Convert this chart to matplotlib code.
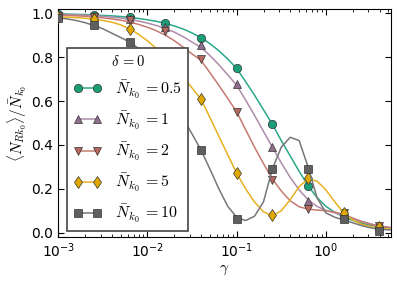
import numpy as np
import matplotlib
matplotlib.use('Agg')
import matplotlib.pyplot as plt

plt.rcParams['mathtext.fontset'] = 'cm'
plt.rcParams['font.size'] = 10

# simulation points (log10 gamma)
log_g_pts = [-3.0, -2.6, -2.2, -1.8, -1.4, -1.0, -0.6, -0.2, 0.2, 0.6]
pts_05 = [0.998, 0.992, 0.986, 0.956, 0.889, 0.749, 0.494, 0.214, 0.074, 0.025]
pts_1 = [0.995, 0.989, 0.976, 0.938, 0.855, 0.676, 0.392, 0.145, 0.080, 0.028]
pts_2 = [0.990, 0.985, 0.968, 0.920, 0.790, 0.551, 0.241, 0.109, 0.090, 0.030]
pts_5 = [0.985, 0.975, 0.927, 0.800, 0.609, 0.271, 0.079, 0.249, 0.090, 0.025]
pts_10 = [0.980, 0.945, 0.870, 0.650, 0.377, 0.062, 0.290, 0.290, 0.062, 0.006]

# theory curves (log10 gamma)
log_g_curve = [-3.0, -2.9, -2.8, -2.7, -2.6, -2.5, -2.4, -2.3, -2.2, -2.1,
               -2.0, -1.9, -1.8, -1.7, -1.6, -1.5, -1.4, -1.3, -1.2, -1.1,
               -1.0, -0.9, -0.8, -0.7, -0.6, -0.5, -0.4, -0.3, -0.2, -0.1,
               0.0, 0.1, 0.2, 0.3, 0.4, 0.5, 0.6, 0.73]
curve_05 = [0.998, 0.997, 0.996, 0.995, 0.993, 0.991, 0.989, 0.986, 0.982, 0.977,
            0.971, 0.964, 0.955, 0.943, 0.929, 0.911, 0.889, 0.862, 0.830, 0.792,
            0.749, 0.689, 0.627, 0.561, 0.494, 0.420, 0.350, 0.280, 0.214, 0.160,
            0.120, 0.092, 0.072, 0.056, 0.043, 0.034, 0.027, 0.021]
curve_1 = [0.996, 0.995, 0.994, 0.992, 0.990, 0.987, 0.983, 0.979, 0.973, 0.965,
           0.956, 0.945, 0.932, 0.915, 0.894, 0.869, 0.845, 0.808, 0.766, 0.720,
           0.672, 0.605, 0.535, 0.462, 0.390, 0.318, 0.252, 0.195, 0.150, 0.120,
           0.101, 0.090, 0.080, 0.066, 0.052, 0.040, 0.031, 0.023]
curve_2 = [0.992, 0.991, 0.989, 0.987, 0.984, 0.980, 0.975, 0.969, 0.961, 0.950,
           0.937, 0.921, 0.901, 0.876, 0.846, 0.815, 0.786, 0.730, 0.672, 0.612,
           0.551, 0.470, 0.390, 0.315, 0.245, 0.190, 0.145, 0.118, 0.107, 0.103,
           0.100, 0.094, 0.082, 0.066, 0.050, 0.038, 0.029, 0.022]
curve_5 = [0.985, 0.983, 0.981, 0.978, 0.974, 0.968, 0.960, 0.948, 0.930, 0.905,
           0.875, 0.840, 0.800, 0.758, 0.710, 0.660, 0.609, 0.525, 0.440, 0.355,
           0.271, 0.200, 0.140, 0.095, 0.077, 0.100, 0.150, 0.210, 0.245, 0.235,
           0.195, 0.140, 0.090, 0.058, 0.038, 0.027, 0.020, 0.015]
curve_10 = [0.980, 0.975, 0.968, 0.958, 0.945, 0.930, 0.910, 0.890, 0.870, 0.840,
            0.800, 0.750, 0.690, 0.610, 0.520, 0.450, 0.377, 0.290, 0.200, 0.120,
            0.070, 0.055, 0.075, 0.140, 0.290, 0.390, 0.435, 0.420, 0.300, 0.160,
            0.090, 0.070, 0.058, 0.045, 0.032, 0.022, 0.015, 0.012]

labels = ['0.5', '1', '2', '5', '10']
markers = ['o', '^', 'v', 'd', 's']
line_colors = ['#2aa888', '#ad8cab', '#c57a70', '#e8b020', '#777777']
face_colors = ['#1b9e77', '#8f6f8d', '#b5665d', '#e0a800', '#5f5f5f']

fig = plt.figure(figsize=(3.99, 2.83), dpi=100)
ax = fig.add_axes([0.146, 0.1625, 0.834, 0.8055])

all_pts = [pts_05, pts_1, pts_2, pts_5, pts_10]
all_curves = [curve_05, curve_1, curve_2, curve_5, curve_10]
xg_c = 10 ** np.array(log_g_curve)
xg_p = 10 ** np.array(log_g_pts)
for i in range(5):
    ax.plot(xg_c, all_curves[i], '-', color=line_colors[i], lw=1.1, zorder=2 + i)
    ax.plot(xg_p, all_pts[i], markers[i], color=face_colors[i], mec='#333333',
            mew=0.5, ms=6, zorder=2 + i)
    # legend proxy
    ax.plot([], [], '-', marker=markers[i], color=line_colors[i], mfc=face_colors[i],
            mec='#333333', mew=0.5, ms=6, lw=1.1,
            label=r'$\bar{N}_{k_0}\,{=}%s$' % labels[i])

ax.set_xscale('log')
ax.set_xlim(1e-3, 10 ** 0.73)
ax.set_ylim(-0.02, 1.02)
ax.set_yticks([0.0, 0.2, 0.4, 0.6, 0.8, 1.0])
ax.set_xlabel(r'$\gamma$', fontsize=11, labelpad=1)
ax.set_ylabel(r'$\langle N_{Rk_0}\rangle/\bar{N}_{k_0}$', fontsize=11, labelpad=2)
ax.tick_params(which='both', direction='in', top=True, right=True)
ax.tick_params(which='major', length=4)
ax.tick_params(which='minor', length=2)

handles, labs = ax.get_legend_handles_labels()
leg = ax.legend(handles[-5:], labs[-5:], title=r'$\delta\,{=}0$', loc='upper left',
                bbox_to_anchor=(0.026, 0.829), borderaxespad=0, numpoints=2,
                fontsize=11.5, title_fontsize=10.5, labelspacing=0.56,
                handlelength=1.8, handletextpad=0.8, borderpad=0.4,
                fancybox=False, framealpha=1)
leg.get_frame().set_edgecolor('#444444')
leg.get_frame().set_linewidth(1.2)
leg.set_zorder(20)

fig.savefig('out.png', dpi=100)
